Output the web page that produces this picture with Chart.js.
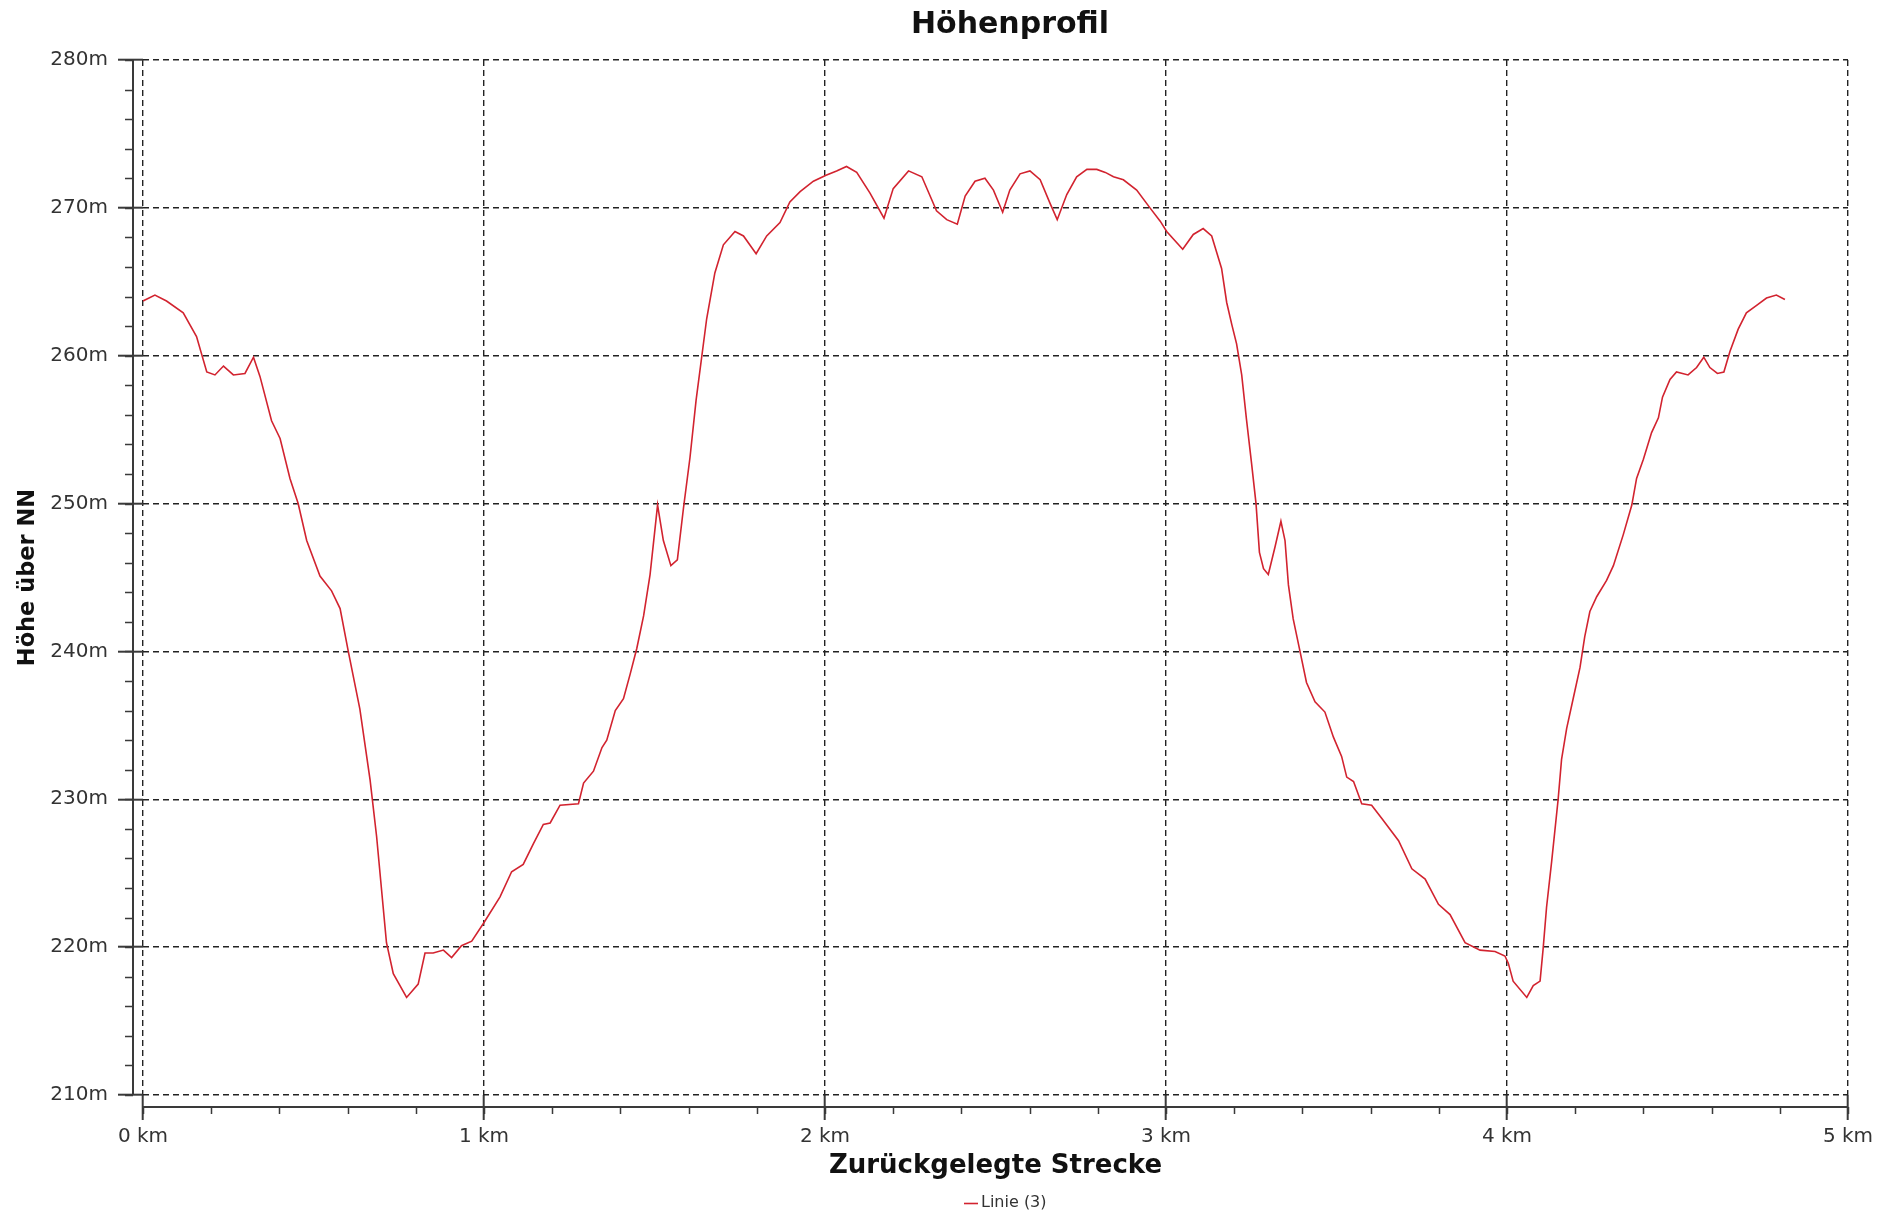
<!DOCTYPE html>
<html>
<head>
<meta charset="utf-8">
<title>Höhenprofil</title>
<script src="https://cdn.jsdelivr.net/npm/chart.js@4/dist/chart.umd.min.js"></script>
<style>
  html, body { margin: 0; padding: 0; background: #fff; }
  #wrap { width: 1892px; height: 1210px; }
</style>
</head>
<body>
<div id="wrap"><canvas id="chart" width="1892" height="1210"></canvas></div>
<script>
// distance along the track (km) and height (m)
const distKm = [
  0.0, 0.035, 0.069, 0.118, 0.157, 0.187, 0.211, 0.236, 0.265, 0.299,
  0.324, 0.343, 0.377, 0.402, 0.431, 0.455, 0.48, 0.519, 0.553, 0.578,
  0.602, 0.636, 0.666, 0.685, 0.714, 0.734, 0.773, 0.807, 0.827, 0.851,
  0.881, 0.905, 0.934, 0.964, 1.001, 1.047, 1.081, 1.115, 1.145, 1.174,
  1.194, 1.223, 1.277, 1.292, 1.321, 1.346, 1.36, 1.385, 1.409, 1.429,
  1.448, 1.468, 1.487, 1.509, 1.526, 1.548, 1.567, 1.585, 1.604, 1.622,
  1.653, 1.677, 1.702, 1.736, 1.761, 1.798, 1.829, 1.868, 1.897, 1.927,
  1.966, 2.003, 2.034, 2.063, 2.093, 2.132, 2.173, 2.2, 2.245, 2.284,
  2.327, 2.357, 2.388, 2.411, 2.44, 2.469, 2.494, 2.521, 2.542, 2.572,
  2.601, 2.631, 2.66, 2.681, 2.709, 2.738, 2.768, 2.797, 2.822, 2.846,
  2.875, 2.914, 2.953, 2.983, 3.002, 3.049, 3.08, 3.109, 3.134, 3.163,
  3.178, 3.193, 3.207, 3.222, 3.236, 3.251, 3.264, 3.274, 3.286, 3.3,
  3.32, 3.337, 3.349, 3.359, 3.373, 3.393, 3.412, 3.437, 3.466, 3.491,
  3.515, 3.53, 3.55, 3.574, 3.603, 3.633, 3.682, 3.721, 3.76, 3.799,
  3.833, 3.877, 3.921, 3.965, 3.994, 4.004, 4.018, 4.058, 4.077, 4.097,
  4.106, 4.116, 4.131, 4.15, 4.16, 4.175, 4.194, 4.214, 4.228, 4.243,
  4.263, 4.292, 4.312, 4.341, 4.366, 4.38, 4.4, 4.424, 4.444, 4.456,
  4.478, 4.497, 4.531, 4.556, 4.577, 4.595, 4.617, 4.636, 4.654, 4.678,
  4.702, 4.732, 4.761, 4.79, 4.815
];
const heightM = [
  263.7, 264.1, 263.7, 262.9, 261.3, 258.9, 258.7, 259.3, 258.7, 258.8,
  259.9, 258.6, 255.6, 254.4, 251.7, 250.0, 247.5, 245.1, 244.1, 242.9,
  240.0, 236.1, 231.3, 227.5, 220.3, 218.2, 216.6, 217.5, 219.6, 219.6,
  219.8, 219.3, 220.1, 220.4, 221.7, 223.4, 225.1, 225.6, 227.0, 228.3,
  228.4, 229.6, 229.7, 231.1, 231.9, 233.5, 234.0, 236.0, 236.8, 238.5,
  240.2, 242.4, 245.2, 249.9, 247.5, 245.8, 246.2, 249.7, 253.1, 257.0,
  262.5, 265.6, 267.5, 268.4, 268.1, 266.9, 268.1, 269.0, 270.4, 271.1,
  271.8, 272.2, 272.5, 272.8, 272.4, 271.0, 269.3, 271.3, 272.5, 272.1,
  269.8, 269.2, 268.9, 270.8, 271.8, 272.0, 271.2, 269.7, 271.2, 272.3,
  272.5, 271.9, 270.3, 269.2, 270.9, 272.1, 272.6, 272.6, 272.4, 272.1,
  271.9, 271.2, 270.0, 269.1, 268.4, 267.2, 268.2, 268.6, 268.1, 265.9,
  263.6, 262.1, 260.8, 258.7, 255.7, 252.7, 250.0, 246.7, 245.6, 245.2,
  247.1, 248.8, 247.5, 244.5, 242.2, 240.0, 237.9, 236.6, 235.9, 234.2,
  232.9, 231.5, 231.2, 229.7, 229.6, 228.7, 227.2, 225.3, 224.6, 222.9,
  222.2, 220.3, 219.8, 219.7, 219.4, 218.9, 217.7, 216.6, 217.4, 217.7,
  219.9, 222.7, 225.8, 230.0, 232.7, 234.8, 236.8, 238.9, 241.0, 242.7,
  243.7, 244.8, 245.8, 247.9, 249.9, 251.7, 253.0, 254.8, 255.8, 257.2,
  258.4, 258.9, 258.7, 259.2, 259.9, 259.2, 258.8, 258.9, 260.3, 261.8,
  262.9, 263.4, 263.9, 264.1, 263.8
];

const xMin = 0, xMax = 5, xStep = 1, xMinorStep = 0.2;
const yMin = 210, yMax = 280, yStep = 10, yMinorStep = 2;

const chartTitle = "Höhenprofil";
const seriesName = "Linie (3)";
const lineColor = "#d2232f";

const points = distKm.map((d, i) => ({ x: d, y: heightM[i] }));

const FONT = "'DejaVu Sans', Verdana, sans-serif";
const AXIS_COL = "#3a3a3a";

// axis lines sit a little away from the plot area, with minor ticks on them
const offsetAxes = {
  id: "offsetAxes",
  afterDraw(chart) {
    const ctx = chart.ctx;
    const xs = chart.scales.x, ys = chart.scales.y;
    const area = chart.chartArea;
    const yAxisX = area.left - 10;
    const xAxisY = area.bottom + 12;
    ctx.save();
    ctx.strokeStyle = AXIS_COL;
    ctx.lineWidth = 2;
    ctx.beginPath();
    ctx.moveTo(yAxisX, ys.getPixelForValue(yMax));
    ctx.lineTo(yAxisX, ys.getPixelForValue(yMin));
    ctx.moveTo(xs.getPixelForValue(xMin), xAxisY);
    ctx.lineTo(xs.getPixelForValue(xMax), xAxisY);
    ctx.stroke();
    ctx.lineWidth = 1.5;
    ctx.beginPath();
    for (let v = yMin; v <= yMax; v += yMinorStep) {
      const py = Math.round(ys.getPixelForValue(v)) + 0.5;
      ctx.moveTo(yAxisX - 8, py);
      ctx.lineTo(yAxisX, py);
    }
    for (let i = 0; i <= (xMax - xMin) / xMinorStep; i++) {
      const px = Math.round(xs.getPixelForValue(xMin + i * xMinorStep)) + 0.5;
      ctx.moveTo(px, xAxisY);
      ctx.lineTo(px, xAxisY + 7);
    }
    ctx.stroke();
    ctx.restore();
  }
};

// title and legend sit a bit right of the plot centre in the original
const titleLegend = {
  id: "titleLegend",
  afterDraw(chart) {
    const ctx = chart.ctx;
    ctx.save();
    ctx.fillStyle = "#111";
    ctx.font = "bold 30px " + FONT;
    ctx.textAlign = "center";
    ctx.textBaseline = "middle";
    ctx.fillText(chartTitle, 1010, 25);

    ctx.strokeStyle = lineColor;
    ctx.lineWidth = 1.6;
    ctx.beginPath();
    ctx.moveTo(964, 1203.5);
    ctx.lineTo(978, 1203.5);
    ctx.stroke();
    ctx.fillStyle = "#333";
    ctx.font = "16px " + FONT;
    ctx.textAlign = "left";
    ctx.fillText(seriesName, 981, 1203);
    ctx.restore();
  }
};

new Chart(document.getElementById("chart"), {
  type: "line",
  data: {
    datasets: [{
      label: seriesName,
      data: points,
      borderColor: lineColor,
      backgroundColor: lineColor,
      borderWidth: 1.6,
      pointRadius: 0,
      tension: 0,
      fill: false
    }]
  },
  options: {
    responsive: false,
    animation: false,
    devicePixelRatio: 1,
    layout: { padding: { left: 0, right: 44, top: 60, bottom: 28 } },
    plugins: {
      title: { display: false },
      legend: { display: false },
      tooltip: { enabled: false }
    },
    scales: {
      x: {
        type: "linear",
        min: xMin,
        max: xMax,
        border: { display: false, dash: [6, 4] },
        grid: {
          color: "#222",
          lineWidth: 1.4,
          tickLength: 25,
          tickColor: AXIS_COL,
          tickWidth: 2,
          tickBorderDash: []
        },
        ticks: {
          stepSize: xStep,
          color: "#333",
          font: { family: FONT, size: 20 },
          padding: 5,
          maxRotation: 0,
          callback: v => v + " km"
        },
        title: {
          display: true,
          text: "Zurückgelegte Strecke",
          color: "#111",
          font: { family: FONT, size: 26, weight: "bold" },
          padding: { top: 0, bottom: 0 }
        },
        afterFit: s => { s.height = 87; }
      },
      y: {
        min: yMin,
        max: yMax,
        border: { display: false, dash: [6, 4] },
        grid: {
          color: "#222",
          lineWidth: 1.4,
          tickLength: 25,
          tickColor: AXIS_COL,
          tickWidth: 2,
          tickBorderDash: []
        },
        ticks: {
          stepSize: yStep,
          color: "#333",
          font: { family: FONT, size: 20 },
          padding: 10,
          callback: v => v + "m"
        },
        title: {
          display: true,
          text: "Höhe über NN",
          color: "#111",
          font: { family: FONT, size: 22.5, weight: "bold" },
          padding: { top: 15, bottom: 0 }
        },
        afterFit: s => { s.width = 143; }
      }
    }
  },
  plugins: [offsetAxes, titleLegend]
});
</script>
</body>
</html>
